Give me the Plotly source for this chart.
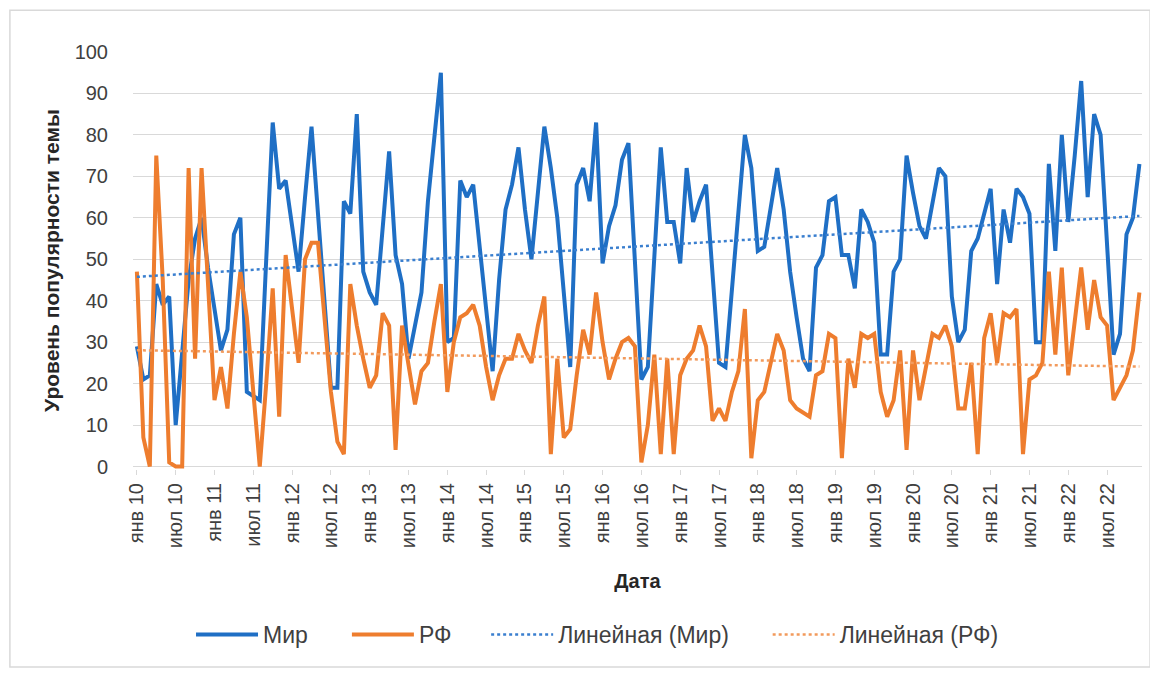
import numpy as np
import plotly.graph_objects as go

# Monthly values, Jan 2010 .. Dec 2022
mir = [29, 21, 22, 44, 39, 41, 10, 28, 45, 55,
       60, 48, 38, 28, 33, 56, 60, 18, 17, 16,
       50, 83, 67, 69, 58, 47, 65, 82, 61, 40,
       19, 19, 64, 61, 85, 47, 42, 39, 58, 76,
       51, 44, 26, 34, 42, 64, 80, 95, 30, 31,
       69, 65, 68, 52, 38, 23, 45, 62, 68, 77,
       62, 50, 66, 82, 72, 60, 42, 24, 68, 72,
       64, 83, 49, 58, 63, 74, 78, 50, 21, 24,
       50, 77, 59, 59, 49, 72, 59, 64, 68, 45,
       25, 24, 43, 62, 80, 72, 52, 53, 63, 72,
       62, 47, 36, 26, 23, 48, 51, 64, 65, 51,
       51, 43, 62, 59, 54, 27, 27, 47, 50, 75,
       66, 58, 55, 64, 72, 70, 41, 30, 33, 52,
       55, 61, 67, 44, 62, 54, 67, 65, 61, 30,
       30, 73, 52, 80, 59, 75, 93, 65, 85, 80,
       55, 27, 32, 56, 60, 73]

rf = [47, 7, 0, 75, 45, 1, 0, 0, 72, 26,
      72, 45, 16, 24, 14, 32, 47, 36, 18, 0,
      20, 43, 12, 51, 38, 25, 50, 54, 54, 37,
      18, 6, 3, 44, 34, 26, 19, 22, 37, 34,
      4, 34, 25, 15, 23, 25, 35, 44, 18, 30,
      36, 37, 39, 34, 24, 16, 22, 26, 26, 32,
      28, 25, 34, 41, 3, 26, 7, 9, 22, 33,
      27, 42, 30, 21, 26, 30, 31, 29, 1, 10,
      27, 3, 26, 3, 22, 26, 28, 34, 29, 11,
      14, 11, 18, 23, 38, 2, 16, 18, 25, 32,
      28, 16, 14, 13, 12, 22, 23, 32, 31, 2,
      26, 19, 32, 31, 32, 18, 12, 16, 28, 4,
      28, 16, 24, 32, 31, 34, 29, 14, 14, 25,
      3, 31, 37, 25, 37, 36, 38, 3, 21, 22,
      25, 47, 27, 48, 22, 35, 48, 33, 45, 36,
      34, 16, 19, 22, 28, 42]

tick_labels = ["янв 10", "июл 10", "янв 11", "июл 11", "янв 12", "июл 12",
               "янв 13", "июл 13", "янв 14", "июл 14", "янв 15", "июл 15",
               "янв 16", "июл 16", "янв 17", "июл 17", "янв 18", "июл 18",
               "янв 19", "июл 19", "янв 20", "июл 20", "янв 21", "июл 21",
               "янв 22", "июл 22"]

month_index = list(range(len(mir)))
tick_index = month_index[::6][:len(tick_labels)]

# Linear trend lines (as Excel "Линейная")
xi = np.array(month_index, dtype=float)
k_mir, b_mir = np.polyfit(xi, np.array(mir, dtype=float), 1)
k_rf, b_rf = np.polyfit(xi, np.array(rf, dtype=float), 1)
trend_mir = k_mir * xi + b_mir
trend_rf = k_rf * xi + b_rf

BLUE = "#1f6fc5"
ORANGE = "#ee7d2e"
FONT = "Liberation Sans, Arial, sans-serif"

fig = go.Figure()
fig.add_trace(go.Scatter(x=month_index, y=mir, name="Мир", mode="lines",
                         line=dict(color=BLUE, width=4), legend="legend"))
fig.add_trace(go.Scatter(x=month_index, y=rf, name="РФ", mode="lines",
                         line=dict(color=ORANGE, width=4), legend="legend2"))
fig.add_trace(go.Scatter(x=month_index, y=trend_mir, name="Линейная (Мир)", mode="lines",
                         line=dict(color="#3a7fcf", width=2.5, dash="dot"), legend="legend3"))
fig.add_trace(go.Scatter(x=month_index, y=trend_rf, name="Линейная (РФ)", mode="lines",
                         line=dict(color="#f29a5c", width=2.5, dash="dot"), legend="legend4"))


def legend_box(xpos):
    return dict(orientation="h", x=xpos, xanchor="left", y=-0.397, yanchor="middle",
                font=dict(size=23, color="#404040"), itemwidth=62,
                bgcolor="rgba(0,0,0,0)", borderwidth=0)


fig.update_layout(
    width=1158, height=673,
    margin=dict(l=125, r=24, t=44, b=211.5),
    paper_bgcolor="white", plot_bgcolor="white",
    font=dict(family=FONT, color="#404040"),
    showlegend=True,
    legend=legend_box(0.0575),
    legend2=legend_box(0.212),
    legend3=legend_box(0.350),
    legend4=legend_box(0.629),
    xaxis=dict(
        range=[-0.6, 155.4],
        tickmode="array", tickvals=tick_index, ticktext=tick_labels,
        tickangle=-90, tickfont=dict(size=20, color="#404040"),
        ticks="outside", ticklen=5, tickcolor="#d9d9d9",
        showgrid=False, zeroline=False,
        showline=False,
        title=dict(text="<b>Дата</b>", font=dict(size=20, color="#262626"), standoff=26),
    ),
    yaxis=dict(
        range=[-0.6, 100],
        tickmode="array", tickvals=list(range(0, 101, 10)),
        tickfont=dict(size=20, color="#404040"),
        showgrid=True, gridcolor="#d9d9d9", gridwidth=1,
        zeroline=False, showline=False,
        ticklabelstandoff=24,
        title=dict(text="<b>Уровень популярности темы</b>", font=dict(size=21, color="#262626"),
                   standoff=9),
    ),
    shapes=[dict(type="rect", xref="paper", yref="paper",
                 x0=-0.122, x1=1.008, y0=-0.475, y1=1.1,
                 line=dict(color="#d9d9d9", width=1.5), fillcolor="rgba(0,0,0,0)",
                 layer="below")],
)

fig.write_html("out.html")
